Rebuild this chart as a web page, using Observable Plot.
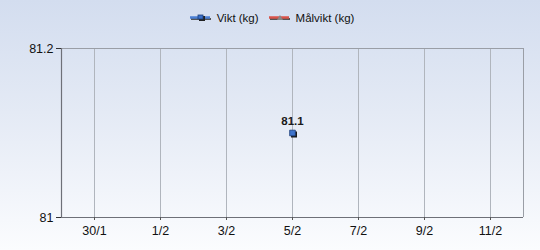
<!DOCTYPE html>
<html>
<head>
<meta charset="utf-8">
<script src="https://cdn.jsdelivr.net/npm/d3@7"></script>
<script src="https://cdn.jsdelivr.net/npm/@observablehq/plot@0.6"></script>
<style>
  html, body { margin: 0; padding: 0; }
  body { width: 540px; height: 250px; overflow: hidden;
         background: linear-gradient(to bottom, #d3ddef 0%, #e4eaf5 45%, #fbfcfe 100%);
         font-family: "Liberation Sans", Arial, sans-serif; }
  #legend { height: 36px; display: flex; justify-content: center; align-items: center;
            font-size: 11.5px; color: #111; padding-left: 4px; box-sizing: border-box; }
  #legend .item { display: flex; align-items: center; margin: 0 5px; }
  #legend svg { margin-right: 5px; }
  #chart svg { display: block; background: transparent; }
</style>
</head>
<body>
<div id="legend"></div>
<div id="chart"></div>
<script>
// Data
const weightDates = ["2025-02-05"];
const weightValues = [81.1];
const targetDates = [];
const targetValues = [];
const seriesNames = ["Vikt (kg)", "Målvikt (kg)"];
const seriesColors = ["#4a7fd4", "#d9534a"];
const xTickDates = ["2025-01-30", "2025-02-01", "2025-02-03", "2025-02-05", "2025-02-07", "2025-02-09", "2025-02-11"];
const xDomain = ["2025-01-29", "2025-02-12"];
const yTicks = [81, 81.2];
const yDomain = [81, 81.2];

const weight = weightDates.map((d, i) => ({date: new Date(d), value: weightValues[i]}));
const target = targetDates.map((d, i) => ({date: new Date(d), value: targetValues[i]}));
const xTicks = xTickDates.map(d => new Date(d));

// Legend
const legend = document.getElementById("legend");
seriesNames.forEach((name, i) => {
  const item = document.createElement("div");
  item.className = "item";
  const marker = i === 0
    ? `<rect x="9" y="4" width="6" height="5" fill="#222"/><rect x="8" y="3" width="5" height="4" fill="#3a6fc9" stroke="#1d3f7a" stroke-width="0.8"/>`
    : `<path d="M8 8 L11 3 L14 8 Z" fill="#888"/>`;
  item.innerHTML = `<svg width="22" height="12"><line x1="1" x2="21" y1="7" y2="7" stroke="#555" stroke-width="2"/><line x1="0" x2="20" y1="5.5" y2="5.5" stroke="${seriesColors[i]}" stroke-width="2.5"/>${marker}</svg><span>${name}</span>`;
  legend.appendChild(item);
});

const fmtX = d => `${d.getUTCDate()}/${d.getUTCMonth() + 1}`;

const chart = Plot.plot({
  width: 540,
  height: 214,
  marginTop: 12,
  marginBottom: 33,
  marginLeft: 61,
  marginRight: 17,
  style: {fontFamily: "Liberation Sans, Arial, sans-serif", fontSize: "12.5px", color: "#111", background: "transparent"},
  x: {type: "utc", domain: xDomain.map(d => new Date(d)), label: null},
  y: {domain: yDomain, label: null},
  marks: [
    Plot.ruleX(xTicks, {stroke: "#b0b5bd", strokeOpacity: 1}),
    Plot.ruleY([yDomain[1]], {stroke: "#9a9ea6"}),
    Plot.ruleX([new Date(xDomain[1])], {stroke: "#9a9ea6"}),
    Plot.ruleY([yDomain[0]], {stroke: "#6e7078", strokeWidth: 1.2}),
    Plot.ruleX([new Date(xDomain[0])], {stroke: "#6e7078", strokeWidth: 1.2}),
    Plot.axisX({ticks: xTicks, tickFormat: fmtX, tickSize: 3, tickPadding: 6, stroke: "#555", fill: "#111"}),
    Plot.axisY({ticks: yTicks, tickFormat: d => String(d), tickSize: 5, tickPadding: 3, stroke: "#333", fill: "#111"}),
    Plot.line(target, {x: "date", y: "value", stroke: seriesColors[1], strokeWidth: 2}),
    Plot.line(weight, {x: "date", y: "value", stroke: seriesColors[0], strokeWidth: 2}),
    Plot.dot(weight, {x: "date", y: "value", symbol: "square", r: 3.4, fill: "#1a1a1a", stroke: "none", dx: 1.5, dy: 1.5}),
    Plot.dot(weight, {x: "date", y: "value", symbol: "square", r: 3.2, fill: "#3f74cc", stroke: "#1d3f7a", strokeWidth: 0.8}),
    Plot.text(weight, {x: "date", y: "value", text: d => String(d.value), dy: -12, fontWeight: "bold", fontSize: 11.5, fill: "#1a1a1a"})
  ]
});
document.getElementById("chart").appendChild(chart);
</script>
</body>
</html>
